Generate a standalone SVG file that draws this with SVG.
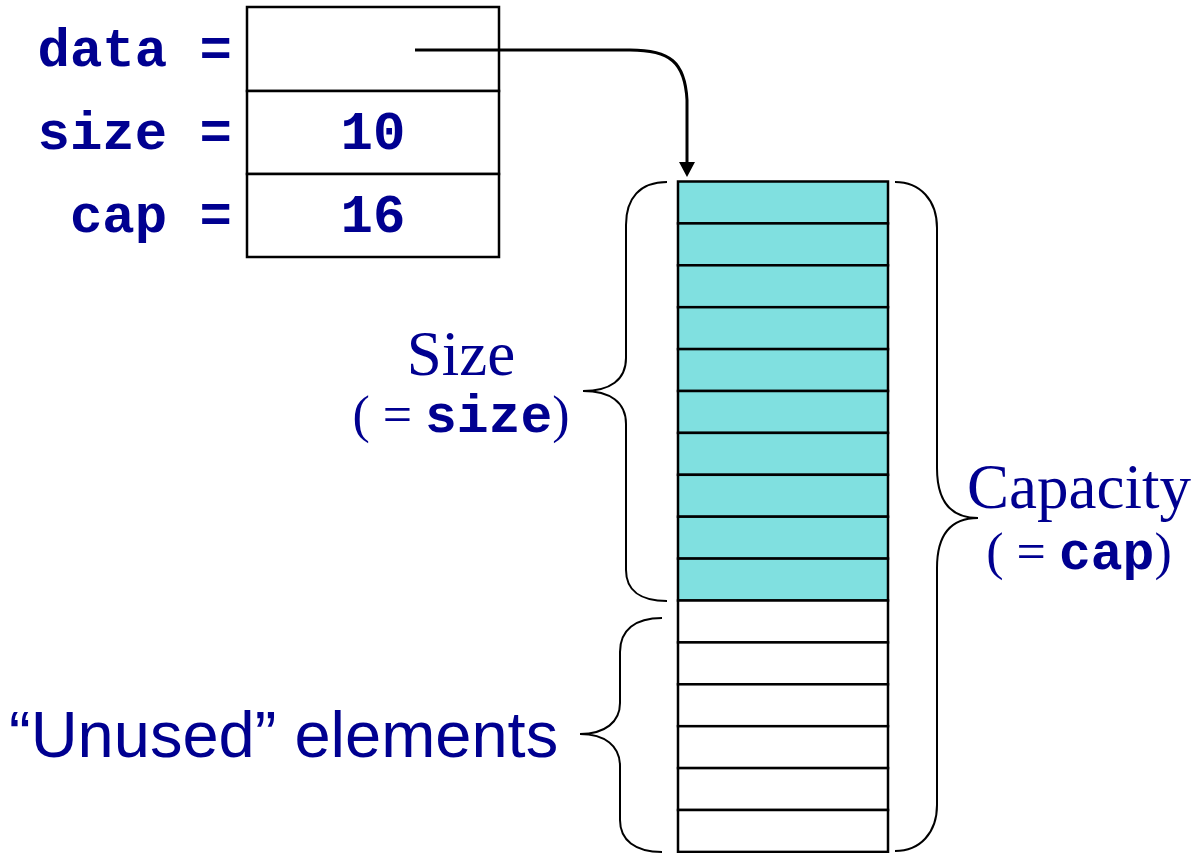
<svg xmlns="http://www.w3.org/2000/svg" width="1196" height="853" viewBox="0 0 1196 853">
<style>
.mono{font-family:"Liberation Mono","Courier New",monospace;font-weight:bold;fill:#000090}
.serif{font-family:"Liberation Serif","Times New Roman",serif;fill:#000090}
.sans{font-family:"Liberation Sans",Arial,sans-serif;fill:#000090}
.box{fill:#fff;stroke:#000;stroke-width:2.5}
.used{fill:#80e0e0;stroke:#000;stroke-width:2.5}
.free{fill:#fff;stroke:#000;stroke-width:2.5}
.brace{fill:none;stroke:#000;stroke-width:2}
</style>
<defs>
<marker id="ah" markerWidth="16" markerHeight="16" refX="0" refY="8" orient="auto" markerUnits="userSpaceOnUse">
<path d="M0,0 L15,8 L0,16 Z" fill="#000"/>
</marker>
</defs>
<g id="struct">
<rect class="box" x="247" y="7" width="252" height="84"/>
<rect class="box" x="247" y="91" width="252" height="83"/>
<rect class="box" x="247" y="174" width="252" height="83"/>
<text class="mono" x="232" y="66" font-size="54" text-anchor="end">data =</text>
<text class="mono" x="232" y="149" font-size="54" text-anchor="end">size =</text>
<text class="mono" x="232" y="232" font-size="54" text-anchor="end">cap =</text>
<text class="mono" x="373" y="149" font-size="54" text-anchor="middle">10</text>
<text class="mono" x="373" y="232" font-size="54" text-anchor="middle">16</text>
</g>
<g id="array">
<rect class="used" x="678" y="181.5" width="210" height="41.9"/>
<rect class="used" x="678" y="223.4" width="210" height="41.9"/>
<rect class="used" x="678" y="265.3" width="210" height="41.9"/>
<rect class="used" x="678" y="307.2" width="210" height="41.9"/>
<rect class="used" x="678" y="349.1" width="210" height="41.9"/>
<rect class="used" x="678" y="391" width="210" height="41.9"/>
<rect class="used" x="678" y="432.9" width="210" height="41.9"/>
<rect class="used" x="678" y="474.8" width="210" height="41.9"/>
<rect class="used" x="678" y="516.7" width="210" height="41.9"/>
<rect class="used" x="678" y="558.6" width="210" height="41.9"/>
<rect class="free" x="678" y="600.5" width="210" height="41.9"/>
<rect class="free" x="678" y="642.4" width="210" height="41.9"/>
<rect class="free" x="678" y="684.3" width="210" height="41.9"/>
<rect class="free" x="678" y="726.2" width="210" height="41.9"/>
<rect class="free" x="678" y="768.1" width="210" height="41.9"/>
<rect class="free" x="678" y="810" width="210" height="41.9"/>
</g>
<g id="size-label">
<path class="brace" d="M667,182 C640,182 626,198 626,225 L626,358 C626,380 610,391 583,391 C610,391 626,402 626,424 L626,570 C626,590 640,601 667,601"/>
<text class="serif" x="461" y="375" font-size="63" text-anchor="middle">Size</text>
<text class="serif" x="461" y="432" font-size="52" text-anchor="middle">( = <tspan class="mono" font-size="53">size</tspan>)</text>
</g>
<g id="capacity-label">
<path class="brace" d="M895,182 C920,182 937,200 937,228 L937,468 C937,500 950,518 978,518 C950,518 937,536 937,568 L937,805 C937,833 920,851 895,851"/>
<text class="serif" x="1079" y="508" font-size="63" text-anchor="middle">Capacity</text>
<text class="serif" x="1079" y="569" font-size="52" text-anchor="middle">( = <tspan class="mono" font-size="53">cap</tspan>)</text>
</g>
<g id="unused-label">
<path class="brace" d="M662,618 C635,618 620,630 620,652 L620,703 C620,722 605,734 580,734 C605,734 620,746 620,766 L620,820 C620,840 635,852 662,852"/>
<text class="sans" x="9" y="757" font-size="65">“Unused” elements</text>
</g>
<g id="connectors">
<path d="M415,50 L630,50 C670,50 685,62 687,100 L687,162" fill="none" stroke="#000" stroke-width="3" marker-end="url(#ah)"/>
</g>
</svg>
